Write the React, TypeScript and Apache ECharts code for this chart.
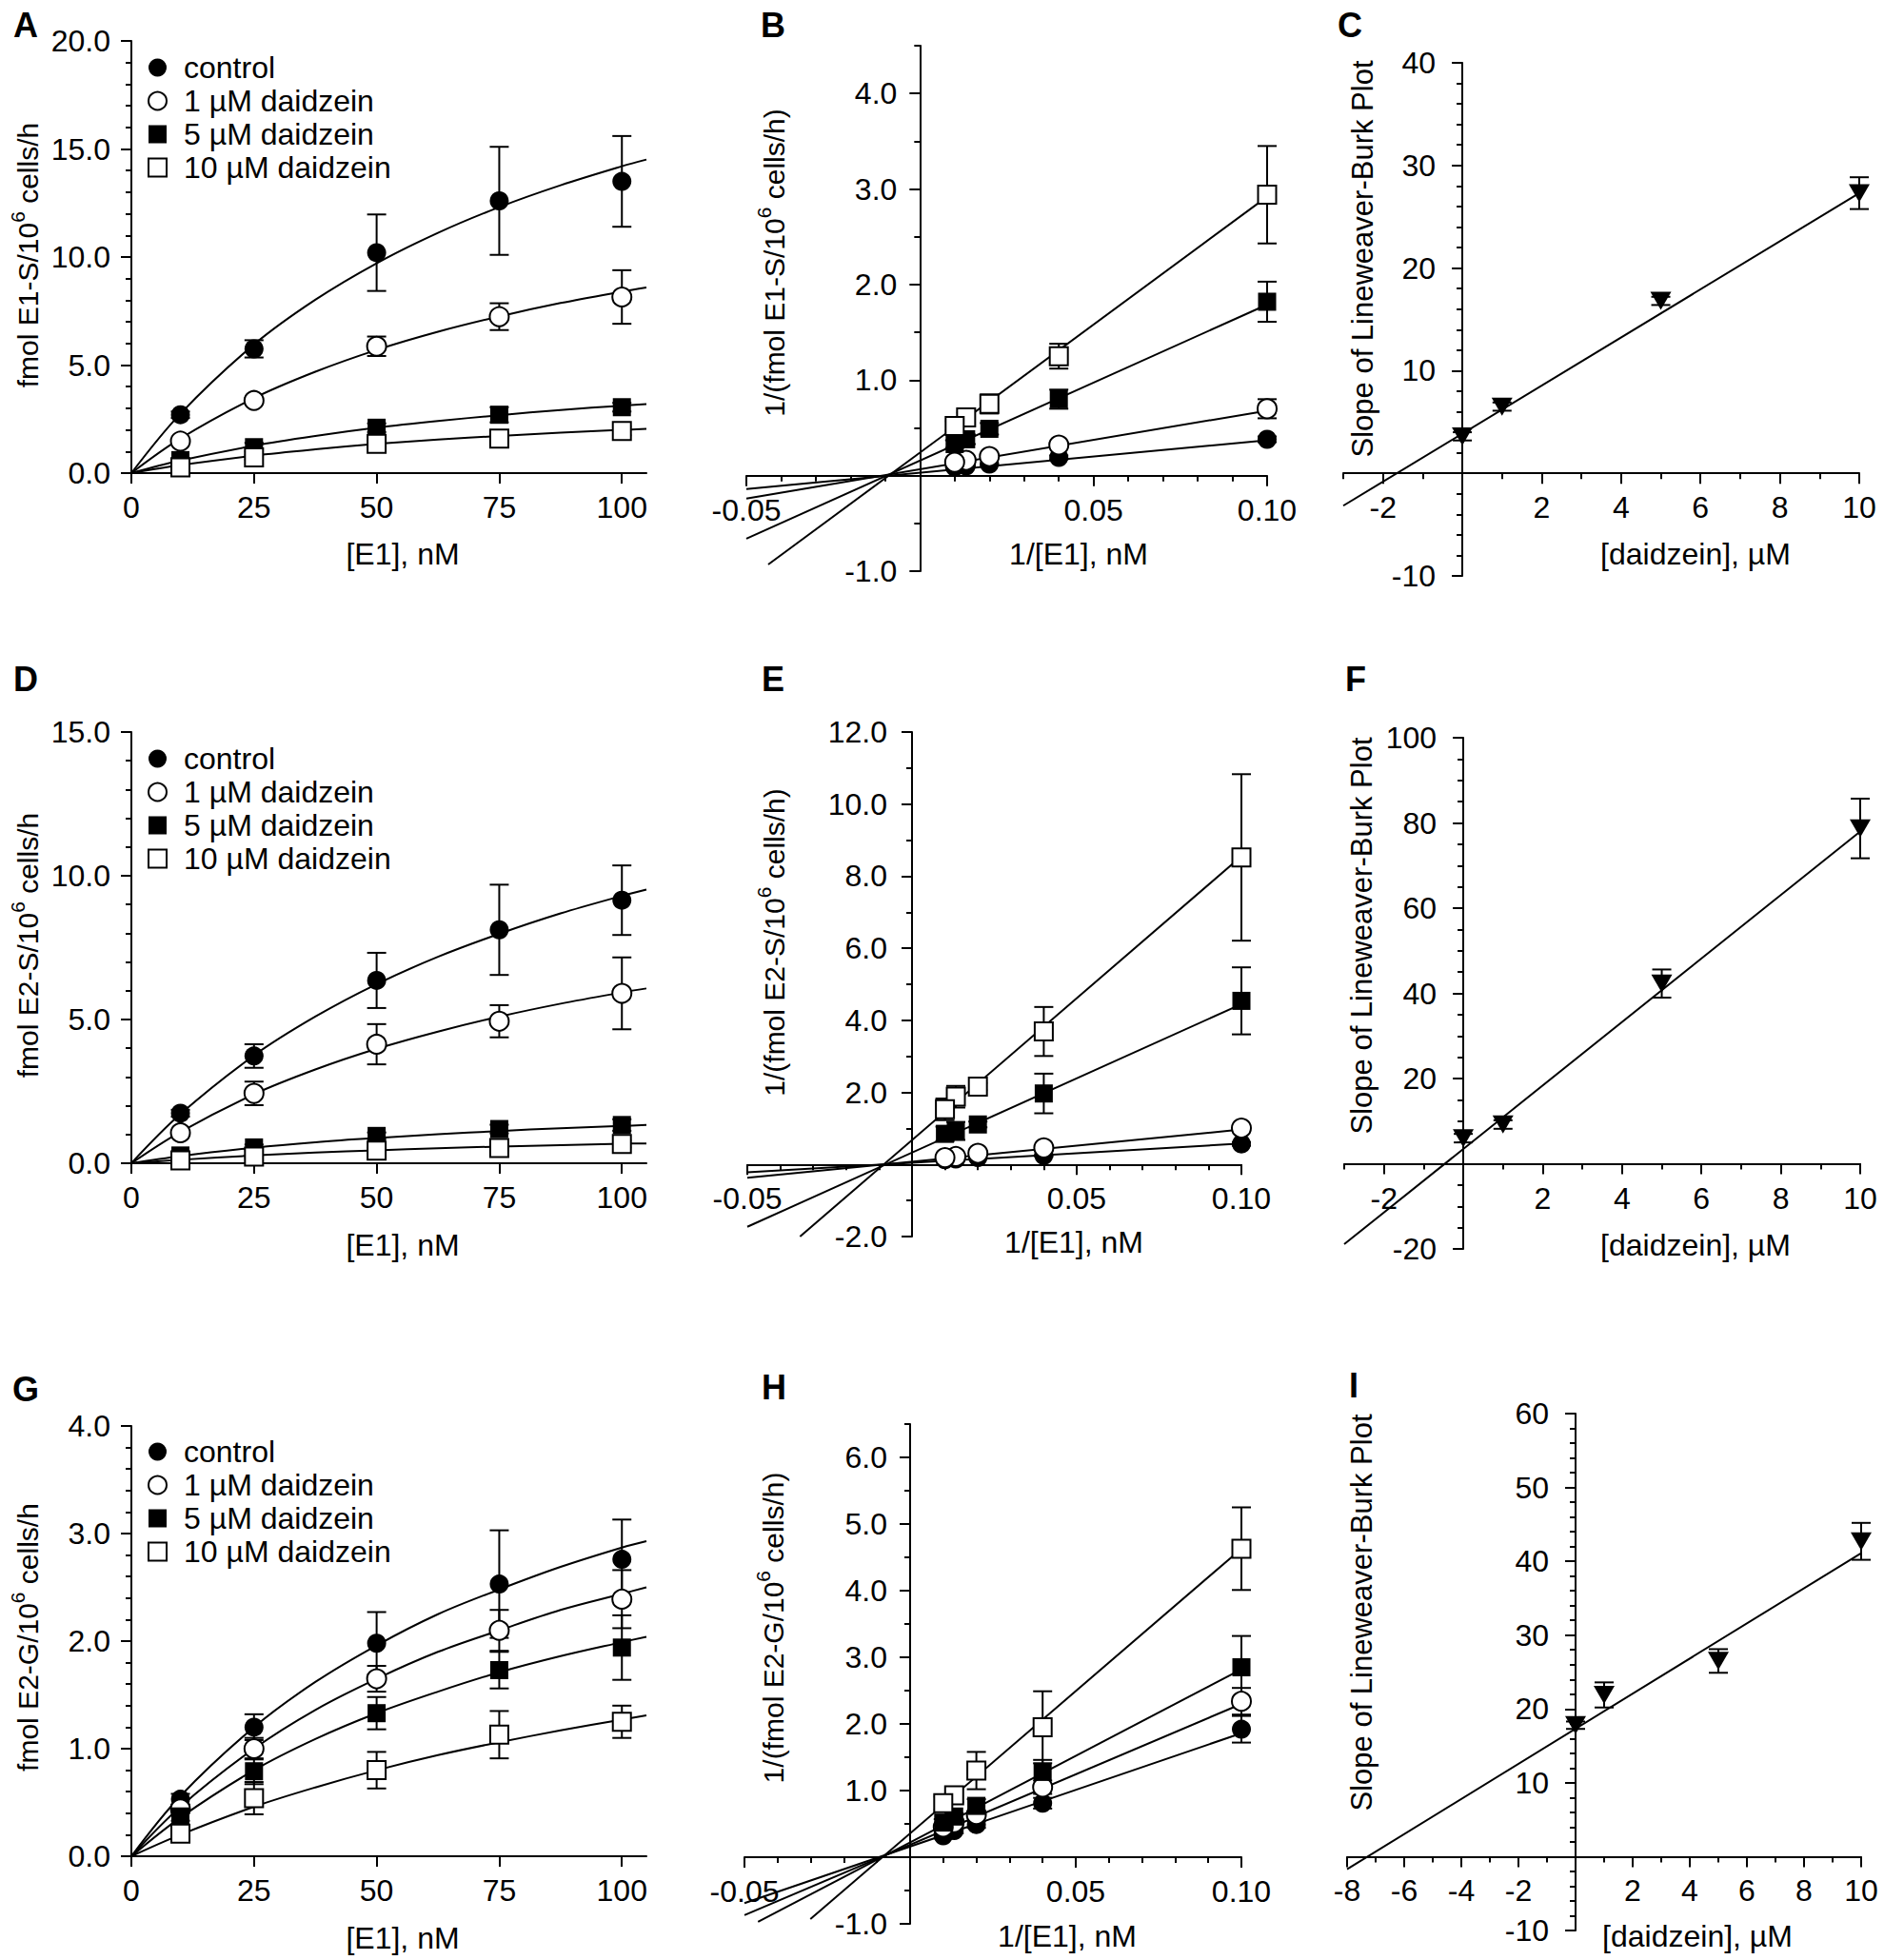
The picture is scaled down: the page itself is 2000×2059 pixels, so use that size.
import React, { useEffect, useRef } from "react";
import * as echarts from "echarts";

const FONT = '"Liberation Sans", Arial, Helvetica, sans-serif';
const FS = 32;
const TITLE_FS = 30;

// ---------- shared x values ----------
const substrateNM = [10, 25, 50, 75, 100];
const curveNM = [0, 10, 25, 37.5, 50, 62.5, 75, 87.5, 100, 105];
const reciprocalNM = [0.1, 0.04, 0.02, 0.0133, 0.01];
const daidzeinUM = [0, 1, 5, 10];
const groupNames = ["control", "1 µM daidzein", "5 µM daidzein", "10 µM daidzein"];

// ---------- Panel A: E1-S formation ----------
const aMean = [
  [2.7, 5.75, 10.2, 12.6, 13.5],
  [1.48, 3.36, 5.87, 7.24, 8.15],
  [0.6, 1.2, 2.1, 2.7, 3.05],
  [0.26, 0.73, 1.35, 1.6, 1.95],
];
const aErr = [
  [0.15, 0.4, 1.77, 2.5, 2.1],
  [0.1, 0.12, 0.45, 0.62, 1.24],
  [0.1, 0.2, 0.2, 0.35, 0.2],
  [0.08, 0.12, 0.15, 0.2, 0.2],
];
const aFit = [
  [0, 2.75, 5.95, 8.02, 9.71, 11.12, 12.31, 13.32, 14.2, 14.51],
  [0, 1.6, 3.47, 4.69, 5.7, 6.54, 7.25, 7.87, 8.4, 8.59],
  [0, 0.58, 1.27, 1.72, 2.1, 2.41, 2.68, 2.92, 3.12, 3.19],
  [0, 0.37, 0.81, 1.1, 1.35, 1.55, 1.72, 1.87, 2.0, 2.05],
];

// ---------- Panel B: Lineweaver-Burk E1-S ----------
const bMean = [
  [0.38, 0.19, 0.12, 0.1, 0.09],
  [0.7, 0.32, 0.2, 0.16, 0.14],
  [1.82, 0.8, 0.49, 0.38, 0.33],
  [2.94, 1.25, 0.75, 0.61, 0.52],
];
const bErr = [
  [0.03, 0.02, 0.01, 0.01, 0.01],
  [0.1, 0.03, 0.02, 0.02, 0.02],
  [0.21, 0.1, 0.06, 0.05, 0.04],
  [0.51, 0.13, 0.1, 0.05, 0.05],
];
const bLine = [
  [[-0.05, -0.14], [0.1, 0.37]],
  [[-0.05, -0.24], [0.1, 0.68]],
  [[-0.05, -0.66], [0.1, 1.79]],
  [[-0.0437, -0.93], [0.1, 2.92]],
];

// ---------- Panel C: slope replot ----------
const cMean = [3.6, 6.5, 16.8, 27.3];
const cErr = [0.4, 0.4, 0.4, 1.55];
const cLine = [[-3, -3.16], [10, 27.3]];

// ---------- Panel D: E2-S formation ----------
const dMean = [
  [1.74, 3.73, 6.36, 8.12, 9.15],
  [1.06, 2.43, 4.14, 4.94, 5.91],
  [0.27, 0.55, 0.95, 1.19, 1.33],
  [0.1, 0.23, 0.44, 0.53, 0.67],
];
const dErr = [
  [0.12, 0.41, 0.96, 1.57, 1.21],
  [0.1, 0.41, 0.7, 0.56, 1.25],
  [0.05, 0.1, 0.12, 0.15, 0.2],
  [0.05, 0.05, 0.1, 0.1, 0.12],
];
const dFit = [
  [0, 1.71, 3.75, 5.1, 6.23, 7.18, 7.98, 8.69, 9.3, 9.52],
  [0, 1.09, 2.4, 3.26, 3.98, 4.58, 5.1, 5.55, 5.94, 6.08],
  [0, 0.25, 0.54, 0.73, 0.88, 1.01, 1.12, 1.22, 1.3, 1.33],
  [0, 0.12, 0.27, 0.37, 0.45, 0.52, 0.58, 0.63, 0.68, 0.69],
];

// ---------- Panel E ----------
const eMean = [
  [0.57, 0.25, 0.19, 0.15, 0.13],
  [1.01, 0.46, 0.31, 0.22, 0.19],
  [4.54, 1.97, 1.11, 0.93, 0.85],
  [8.52, 3.69, 2.16, 1.88, 1.53],
];
const eErr = [
  [0.05, 0.03, 0.02, 0.02, 0.02],
  [0.08, 0.05, 0.03, 0.03, 0.03],
  [0.93, 0.55, 0.08, 0.25, 0.2],
  [2.31, 0.68, 0.1, 0.3, 0.3],
];
const eLine = [
  [[-0.05, -0.22], [0.1, 0.58]],
  [[-0.05, -0.37], [0.1, 0.97]],
  [[-0.05, -1.73], [0.1, 4.45]],
  [[-0.034, -2.0], [0.1, 8.55]],
];

// ---------- Panel F ----------
const fMean = [6.0, 9.2, 42.3, 78.7];
const fErr = [1, 1, 3.3, 7.0];
const fLine = [[-3, -18.9], [10, 78.0]];

// ---------- Panel G: E2-G formation ----------
const gMean = [
  [0.53, 1.2, 1.98, 2.53, 2.76],
  [0.44, 1.0, 1.65, 2.1, 2.39],
  [0.37, 0.79, 1.33, 1.73, 1.94],
  [0.21, 0.54, 0.8, 1.13, 1.25],
];
const gErr = [
  [0.05, 0.12, 0.29, 0.5, 0.37],
  [0.04, 0.1, 0.12, 0.19, 0.27],
  [0.04, 0.12, 0.15, 0.17, 0.3],
  [0.04, 0.15, 0.17, 0.22, 0.15],
];
const gFit = [
  [0, 0.56, 1.2, 1.62, 1.96, 2.25, 2.48, 2.69, 2.87, 2.93],
  [0, 0.46, 1.0, 1.36, 1.65, 1.9, 2.1, 2.29, 2.44, 2.5],
  [0, 0.36, 0.8, 1.09, 1.33, 1.53, 1.71, 1.86, 1.99, 2.04],
  [0, 0.2, 0.46, 0.64, 0.8, 0.94, 1.06, 1.17, 1.27, 1.31],
];

// ---------- Panel H ----------
const hMean = [
  [1.92, 0.81, 0.49, 0.4, 0.32],
  [2.34, 1.05, 0.64, 0.52, 0.45],
  [2.85, 1.28, 0.77, 0.61, 0.52],
  [4.63, 1.95, 1.3, 0.93, 0.81],
];
const hErr = [
  [0.2, 0.08, 0.05, 0.04, 0.04],
  [0.2, 0.1, 0.05, 0.05, 0.05],
  [0.47, 0.18, 0.1, 0.05, 0.05],
  [0.62, 0.54, 0.28, 0.1, 0.1],
];
const hLine = [
  [[-0.05, -0.69], [0.1, 1.86]],
  [[-0.05, -0.87], [0.1, 2.3]],
  [[-0.0459, -0.97], [0.1, 2.82]],
  [[-0.0301, -0.93], [0.1, 4.63]],
];

// ---------- Panel I ----------
const iMean = [17.8, 21.9, 26.5, 42.7];
const iErr = [0.5, 1.7, 1.6, 2.5];
const iLine = [[-8, -1.7], [10, 41.1]];

// ---------- styling ----------
const lineSt = { color: "#000", width: 2 };
const SYMBOLS = ["circle", "circle", "rect", "rect"];
const SIZES = [20, 20, 19, 19];
const STYLES = [
  { color: "#000", borderColor: "#000", borderWidth: 0, opacity: 1 },
  { color: "#fff", borderColor: "#000", borderWidth: 2, opacity: 1 },
  { color: "#000", borderColor: "#000", borderWidth: 0, opacity: 1 },
  { color: "#fff", borderColor: "#000", borderWidth: 2, opacity: 1 },
];
const CAP = 10;

type AxisSpec = {
  min: number;
  max: number;
  interval?: number;
  minorSplit?: number;
  fine?: number;
  ticks?: number[];
  labels?: number[];
  dec: number;
  hideZero?: boolean;
  margin: number;
};

const mmX: AxisSpec = { min: 0, max: 105, interval: 25, ticks: [0, 25, 50, 75, 100], labels: [0, 25, 50, 75, 100], dec: 0, margin: 20 };
const lbX: AxisSpec = { min: -0.05, max: 0.1, interval: 0.05, minorSplit: 5, dec: 2, hideZero: true, margin: 20 };
const daidX: AxisSpec = { min: -3, max: 10, fine: 1, ticks: [-2, 0, 2, 4, 6, 8, 10], labels: [-2, 2, 4, 6, 8, 10], dec: 0, margin: 20 };

const panels = [
  { key: "A", grid: { left: 138, top: 43, width: 541, height: 454 }, x: mmX, y: { min: 0, max: 20, interval: 5, minorSplit: 5, dec: 1, margin: 22 } },
  { key: "B", grid: { left: 784, top: 48, width: 547, height: 552 }, x: lbX, y: { min: -1, max: 4.5, fine: 0.5, ticks: [-1, 0, 1, 2, 3, 4], labels: [-1, 1, 2, 3, 4], dec: 1, margin: 24 } },
  { key: "C", grid: { left: 1411, top: 66, width: 542, height: 539 }, x: daidX, y: { min: -10, max: 40, interval: 10, minorSplit: 5, dec: 0, hideZero: true, margin: 28 } },
  { key: "D", grid: { left: 138, top: 769, width: 541, height: 453 }, x: mmX, y: { min: 0, max: 15, interval: 5, minorSplit: 5, dec: 1, margin: 22 } },
  { key: "E", grid: { left: 785, top: 769, width: 519, height: 530 }, x: lbX, y: { min: -2, max: 12, interval: 2, minorSplit: 2, dec: 1, hideZero: true, margin: 26 } },
  { key: "F", grid: { left: 1412, top: 775, width: 542, height: 537 }, x: daidX, y: { min: -20, max: 100, interval: 20, minorSplit: 4, dec: 0, hideZero: true, margin: 28 } },
  { key: "G", grid: { left: 138, top: 1498, width: 541, height: 452 }, x: mmX, y: { min: 0, max: 4, interval: 1, minorSplit: 5, dec: 1, margin: 22 } },
  { key: "H", grid: { left: 782, top: 1496, width: 522, height: 525 }, x: lbX, y: { min: -1, max: 6.5, fine: 0.5, ticks: [-1, 0, 1, 2, 3, 4, 5, 6], labels: [-1, 1, 2, 3, 4, 5, 6], dec: 1, margin: 24 } },
  { key: "I", grid: { left: 1415, top: 1485, width: 540, height: 543 }, x: { min: -8, max: 10, interval: 2, minorSplit: 2, dec: 0, hideZero: true, margin: 20 }, y: { min: -10, max: 60, interval: 10, minorSplit: 5, dec: 0, hideZero: true, margin: 28 } },
];

const fmt = (s: AxisSpec) => (v: number) => (s.hideZero && Math.abs(v) < 1e-9 ? "" : Number(v).toFixed(s.dec));

function axisObjs(dim: "x" | "y", s: AxisSpec, gridIndex: number, offset: number): any[] {
  const base: any = {
    type: "value",
    gridIndex,
    min: s.min,
    max: s.max,
    offset,
    position: dim === "x" ? "bottom" : "left",
    splitLine: { show: false },
    axisPointer: { show: false },
    axisLine: { show: true, onZero: false, lineStyle: lineSt },
  };
  const label: any = { show: true, color: "#000", fontSize: FS, fontFamily: FONT, margin: s.margin, formatter: fmt(s) };
  if (s.fine != null) {
    return [
      { ...base, interval: s.fine, axisTick: { show: true, length: 6, lineStyle: lineSt }, axisLabel: { show: false } },
      {
        ...base,
        interval: s.fine,
        axisLine: { show: false, onZero: false },
        axisTick: { show: true, length: 11, customValues: s.ticks, lineStyle: lineSt },
        axisLabel: { ...label, customValues: s.labels },
      },
    ];
  }
  if (s.ticks) {
    return [
      {
        ...base,
        interval: s.interval,
        axisTick: { show: true, length: 11, customValues: s.ticks, lineStyle: lineSt },
        axisLabel: { ...label, customValues: s.labels },
      },
    ];
  }
  return [
    {
      ...base,
      interval: s.interval,
      axisTick: { show: true, length: 11, lineStyle: lineSt },
      minorTick: { show: true, splitNumber: s.minorSplit, length: 6, lineStyle: lineSt },
      axisLabel: label,
    },
  ];
}

const renderErr = (_params: any, api: any) => {
  const x = api.value(0);
  const y = api.value(1);
  const e = api.value(2);
  const p1 = api.coord([x, y + e]);
  const p2 = api.coord([x, y - e]);
  const st = { stroke: "#000", lineWidth: 2 };
  return {
    type: "group",
    children: [
      { type: "line", shape: { x1: p1[0], y1: p1[1], x2: p2[0], y2: p2[1] }, style: st },
      { type: "line", shape: { x1: p1[0] - CAP, y1: p1[1], x2: p1[0] + CAP, y2: p1[1] }, style: st },
      { type: "line", shape: { x1: p2[0] - CAP, y1: p2[1], x2: p2[0] + CAP, y2: p2[1] }, style: st },
    ],
  };
};

function buildOption() {
  const grids: any[] = [];
  const xAxes: any[] = [];
  const yAxes: any[] = [];
  const series: any[] = [];
  const idx: Record<string, { x: number; y: number }> = {};

  panels.forEach((p, gi) => {
    const xs = p.x as AxisSpec;
    const ys = p.y as AxisSpec;
    grids.push({ ...p.grid, containLabel: false });
    // place each axis line on the other axis' zero by shifting it into the grid
    const xOff = ys.min < 0 ? -p.grid.height * (0 - ys.min) / (ys.max - ys.min) : 0;
    const yOff = xs.min < 0 ? -p.grid.width * (0 - xs.min) / (xs.max - xs.min) : 0;
    const xPrim = xAxes.length;
    const yPrim = yAxes.length;
    axisObjs("x", xs, gi, xOff).forEach((a) => xAxes.push(a));
    axisObjs("y", ys, gi, yOff).forEach((a) => yAxes.push(a));
    idx[p.key] = { x: xPrim, y: yPrim };
  });

  const lineSeries = (key: string, data: number[][], smooth: boolean) => ({
    type: "line",
    xAxisIndex: idx[key].x,
    yAxisIndex: idx[key].y,
    data,
    smooth: smooth ? 0.35 : false,
    symbol: "none",
    showSymbol: false,
    lineStyle: lineSt,
    z: 2,
    silent: true,
  });
  const errSeries = (key: string, xs: number[], mean: number[], err: number[]) => ({
    type: "custom",
    xAxisIndex: idx[key].x,
    yAxisIndex: idx[key].y,
    data: xs.map((x, i) => [x, mean[i], err[i]]),
    renderItem: renderErr,
    encode: { x: 0, y: 1 },
    z: 3,
    silent: true,
  });
  const pointSeries = (key: string, xs: number[], mean: number[], g: number, named: boolean) => ({
    type: "scatter",
    name: named ? groupNames[g] : key + " " + groupNames[g],
    xAxisIndex: idx[key].x,
    yAxisIndex: idx[key].y,
    data: xs.map((x, i) => [x, mean[i]]),
    symbol: SYMBOLS[g],
    symbolSize: SIZES[g],
    itemStyle: STYLES[g],
    z: 4,
    silent: true,
  });

  const mm: [string, number[][], number[][], number[][]][] = [
    ["A", aMean, aErr, aFit],
    ["D", dMean, dErr, dFit],
    ["G", gMean, gErr, gFit],
  ];
  mm.forEach(([key, mean, err, fit]) => {
    for (let g = 0; g < 4; g++) {
      series.push(lineSeries(key, curveNM.map((x, i) => [x, fit[g][i]]), true));
      series.push(errSeries(key, substrateNM, mean[g], err[g]));
      series.push(pointSeries(key, substrateNM, mean[g], g, true));
    }
  });

  const lb: [string, number[][], number[][], number[][][]][] = [
    ["B", bMean, bErr, bLine],
    ["E", eMean, eErr, eLine],
    ["H", hMean, hErr, hLine],
  ];
  lb.forEach(([key, mean, err, lines]) => {
    for (let g = 0; g < 4; g++) {
      series.push(lineSeries(key, lines[g], false));
      series.push(errSeries(key, reciprocalNM, mean[g], err[g]));
      series.push(pointSeries(key, reciprocalNM, mean[g], g, false));
    }
  });

  const rep: [string, number[], number[], number[][]][] = [
    ["C", cMean, cErr, cLine],
    ["F", fMean, fErr, fLine],
    ["I", iMean, iErr, iLine],
  ];
  rep.forEach(([key, mean, err, line]) => {
    series.push(lineSeries(key, line, false));
    series.push(errSeries(key, daidzeinUM, mean, err));
    series.push({
      type: "scatter",
      name: key + " slope",
      xAxisIndex: idx[key].x,
      yAxisIndex: idx[key].y,
      data: daidzeinUM.map((x, i) => [x, mean[i]]),
      symbol: "triangle",
      symbolRotate: 180,
      symbolSize: [22, 19],
      itemStyle: { color: "#000", opacity: 1 },
      z: 4,
      silent: true,
    });
  });

  const legendData = groupNames.map((name, g) => ({
    name,
    icon: SYMBOLS[g],
    itemStyle: STYLES[g],
  }));
  const legendAt = (top: number) => ({
    data: legendData,
    orient: "vertical",
    left: 155,
    top,
    padding: 0,
    itemWidth: 19,
    itemHeight: 19,
    itemGap: 3,
    selectedMode: false,
    textStyle: { fontSize: FS, fontFamily: FONT, color: "#000", padding: [0, 0, 0, 13] },
  });

  const txt = (x: number, y: number, text: string, extra: any = {}) => ({
    type: "text",
    x,
    y,
    silent: true,
    style: {
      text,
      fontSize: FS,
      fontFamily: FONT,
      fill: "#000",
      align: "center",
      verticalAlign: "middle",
      textAlign: "center",
      textVerticalAlign: "middle",
      ...extra,
    },
  });
  const letter = (x: number, y: number, t: string) => txt(x, y, t, { fontSize: 36, fontWeight: "bold" });
  const ytitle = (x: number, y: number, pre: string, sup: string, post: string) => ({
    ...txt(x, y, "{n|" + pre + "}{s|" + sup + "}{n|" + post + "}", {
      fontSize: TITLE_FS,
      rich: {
        n: { fontSize: TITLE_FS, fontFamily: FONT, fill: "#000", lineHeight: 42 },
        s: { fontSize: 21, fontFamily: FONT, fill: "#000", lineHeight: 21, verticalAlign: "top" },
      },
    }),
    rotation: Math.PI / 2,
  });
  const yplain = (x: number, y: number, t: string) => ({ ...txt(x, y, t, { fontSize: 31 }), rotation: Math.PI / 2 });

  const graphic = [
    letter(27, 26, "A"),
    letter(812, 26, "B"),
    letter(1418, 26, "C"),
    letter(27, 713, "D"),
    letter(812, 713, "E"),
    letter(1424, 713, "F"),
    letter(27, 1459, "G"),
    letter(813, 1457, "H"),
    letter(1422, 1455, "I"),

    txt(423, 582, "[E1], nM"),
    txt(1133, 582, "1/[E1], nM"),
    txt(1781, 582, "[daidzein], µM"),
    txt(423, 1308, "[E1], nM"),
    txt(1128, 1305, "1/[E1], nM"),
    txt(1781, 1308, "[daidzein], µM"),
    txt(423, 2036, "[E1], nM"),
    txt(1121, 2034, "1/[E1], nM"),
    txt(1783, 2034, "[daidzein], µM"),

    ytitle(29, 268, "fmol E1-S/10", "6", " cells/h"),
    ytitle(813, 276, "1/(fmol E1-S/10", "6", " cells/h)"),
    yplain(1431, 272, "Slope of Lineweaver-Burk Plot"),
    ytitle(29, 993, "fmol E2-S/10", "6", " cells/h"),
    ytitle(813, 990, "1/(fmol E2-S/10", "6", " cells/h)"),
    yplain(1430, 983, "Slope of Lineweaver-Burk Plot"),
    ytitle(29, 1720, "fmol E2-G/10", "6", " cells/h"),
    ytitle(812, 1710, "1/(fmol E2-G/10", "6", " cells/h)"),
    yplain(1430, 1694, "Slope of Lineweaver-Burk Plot"),
  ];

  return {
    animation: false,
    backgroundColor: "#fff",
    textStyle: { fontFamily: FONT },
    grid: grids,
    xAxis: xAxes,
    yAxis: yAxes,
    legend: [legendAt(55), legendAt(781), legendAt(1509)],
    series,
    graphic,
  };
}

export default function App() {
  const ref = useRef<HTMLDivElement>(null);
  useEffect(() => {
    if (!ref.current) return;
    const chart = echarts.init(ref.current, undefined, { renderer: "svg" });
    chart.setOption(buildOption() as any);
    return () => chart.dispose();
  }, []);
  return (
    <div
      ref={ref}
      style={{ position: "absolute", left: 0, top: 0, width: 2000, height: 2059, background: "#fff" }}
    />
  );
}
